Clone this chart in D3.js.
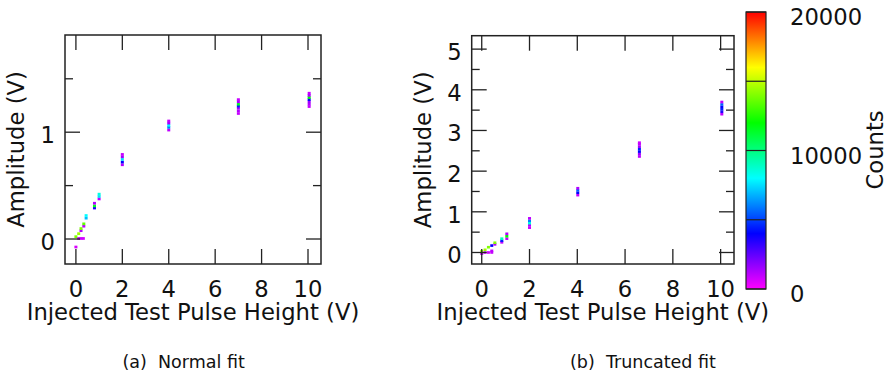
<!DOCTYPE html>
<html>
<head>
<meta charset="utf-8">
<script src="https://cdn.jsdelivr.net/npm/d3@7"></script>
<style>
  body { margin: 0; background: #fff; }
  text { font-family: "DejaVu Sans", sans-serif; fill: #111; }
</style>
</head>
<body>
<div id="drawing"></div>
<script>
// tick labels
var xTicks = [0, 2, 4, 6, 8, 10];
var normalYTicks = [0, 1];
var normalYMinor = [0.5, 1.5];
var truncYTicks = [0, 1, 2, 3, 4, 5];
var truncYMinor = [0.5, 1.5, 2.5, 3.5, 4.5];
var countTicks = [0, 10000, 20000];
var countMinor = [5000, 15000];

// histogram cells: [injected V, amplitude V, counts]
var normalCells = [
  [0, -0.075, 600], [0, 0.022, 14000],
  [0.12, 0.005, 900], [0.22, 0.005, 800], [0.32, 0.005, 700],
  [0.12, 0.05, 14500],
  [0.22, 0.078, 1200], [0.22, 0.098, 14000],
  [0.34, 0.12, 1000], [0.34, 0.142, 13500],
  [0.44, 0.195, 7000], [0.44, 0.22, 8000],
  [0.8, 0.29, 3500], [0.8, 0.31, 11500], [0.8, 0.335, 1200],
  [1.0, 0.375, 1000], [1.0, 0.398, 7500], [1.0, 0.42, 8500],
  [2, 0.695, 1200], [2, 0.72, 4000], [2, 0.745, 7500], [2, 0.77, 1500], [2, 0.792, 900],
  [4, 1.02, 1000], [4, 1.045, 6000], [4, 1.065, 8000], [4, 1.085, 1500], [4, 1.105, 900],
  [7, 1.175, 900], [7, 1.2, 1200], [7, 1.225, 1500], [7, 1.245, 4500], [7, 1.262, 11500], [7, 1.285, 1300], [7, 1.305, 900],
  [10.05, 1.24, 900], [10.05, 1.262, 1200], [10.05, 1.285, 1500], [10.05, 1.305, 4000], [10.05, 1.325, 12000], [10.05, 1.345, 1300], [10.05, 1.365, 900]
];
var truncCells = [
  [0, -0.03, 800], [0, 0.03, 14500],
  [0.14, 0.0, 900], [0.14, 0.066, 14500],
  [0.28, 0.0, 800], [0.28, 0.13, 14000],
  [0.42, 0.0, 900], [0.42, 0.04, 1000], [0.42, 0.17, 4000],
  [0.55, 0.2, 1200], [0.55, 0.24, 14000],
  [0.84, 0.25, 1000], [0.84, 0.29, 4500], [0.84, 0.34, 9000],
  [1.05, 0.34, 1000], [1.05, 0.40, 12000], [1.05, 0.46, 1200],
  [2, 0.61, 800], [2, 0.67, 1200], [2, 0.72, 8500], [2, 0.78, 6000], [2, 0.84, 1000],
  [4.02, 1.41, 1000], [4.02, 1.47, 4000], [4.02, 1.53, 5500], [4.02, 1.58, 1200],
  [6.6, 2.36, 1000], [6.6, 2.42, 1500], [6.6, 2.48, 4000], [6.6, 2.54, 4500], [6.6, 2.6, 1500], [6.6, 2.66, 1000], [6.6, 2.7, 800],
  [10.05, 3.40, 1000], [10.05, 3.46, 3500], [10.05, 3.52, 4500], [10.05, 3.58, 4000], [10.05, 3.64, 5500], [10.05, 3.70, 1000]
];

var W = 888, H = 374;
var FS = "22.7px";
var svg = d3.select("#drawing").append("svg").attr("width", W).attr("height", H);

var color = d3.scaleSequential(function (t) { return d3.hsl(300 * (1 - t), 1, 0.5) + ""; })
  .domain([0, 20000]);

function panel(opt) {
  var x = d3.scaleLinear().domain(opt.xDom).range([opt.left, opt.right]);
  var y = d3.scaleLinear().domain(opt.yDom).range([opt.bottom, opt.top]);
  var g = svg.append("g");

  var cw = 3, ch = opt.cellH;
  g.selectAll(".cell").data(opt.cells).enter().append("rect")
    .attr("class", "cell")
    .attr("x", function (d) { return x(d[0]) - cw / 2; })
    .attr("y", function (d) { return y(d[1]) - ch / 2; })
    .attr("width", cw).attr("height", ch)
    .attr("fill", function (d) { return color(d[2]); });

  var tk = "#222";
  // x ticks, bottom and top, inward
  xTicks.forEach(function (v) {
    g.append("line").attr("x1", x(v)).attr("x2", x(v)).attr("y1", opt.bottom).attr("y2", opt.bottom - 15).attr("stroke", tk).attr("stroke-width", 1.3);
    g.append("line").attr("x1", x(v)).attr("x2", x(v)).attr("y1", opt.top).attr("y2", opt.top + 15).attr("stroke", tk).attr("stroke-width", 1.3);
    g.append("text").attr("x", x(v)).attr("y", 297).attr("text-anchor", "middle")
      .style("font-size", FS).text(v);
  });
  opt.yTicks.forEach(function (v) {
    g.append("line").attr("x1", opt.left).attr("x2", opt.left + 15).attr("y1", y(v)).attr("y2", y(v)).attr("stroke", tk).attr("stroke-width", 1.3);
    g.append("line").attr("x1", opt.right).attr("x2", opt.right - 15).attr("y1", y(v)).attr("y2", y(v)).attr("stroke", tk).attr("stroke-width", 1.3);
    g.append("text").attr("x", opt.left - 10).attr("y", y(v) + 11).attr("text-anchor", "end")
      .style("font-size", FS).text(v);
  });
  opt.yMinor.forEach(function (v) {
    g.append("line").attr("x1", opt.left).attr("x2", opt.left + 8).attr("y1", y(v)).attr("y2", y(v)).attr("stroke", tk).attr("stroke-width", 1.3);
    g.append("line").attr("x1", opt.right).attr("x2", opt.right - 8).attr("y1", y(v)).attr("y2", y(v)).attr("stroke", tk).attr("stroke-width", 1.3);
  });

  g.append("rect").attr("x", opt.left).attr("y", opt.top)
    .attr("width", opt.right - opt.left).attr("height", opt.bottom - opt.top)
    .attr("fill", "none").attr("stroke", tk).attr("stroke-width", 1.5);

  g.append("text").attr("x", (opt.left + opt.right) / 2).attr("y", 320).attr("text-anchor", "middle")
    .style("font-size", FS).text("Injected Test Pulse Height (V)");
  g.append("text").attr("transform", "translate(" + opt.yTitleX + "," + (opt.top + opt.bottom) / 2 + ") rotate(-90)")
    .attr("text-anchor", "middle").style("font-size", FS).text("Amplitude (V)");
  g.append("text").attr("x", opt.capX).attr("y", 368).style("font-size", "17.5px")
    .attr("xml:space", "preserve").style("white-space", "pre").text(opt.caption);
}

panel({
  left: 65, right: 321, top: 35, bottom: 264,
  xDom: [-0.47, 10.56], yDom: [-0.234, 1.91],
  yTicks: normalYTicks, yMinor: normalYMinor,
  cells: normalCells, cellH: 2.7,
  yTitleX: 23.5, capX: 122.5, caption: "(a)  Normal fit"
});
panel({
  left: 471.7, right: 734, top: 35.7, bottom: 264,
  xDom: [-0.42, 10.56], yDom: [-0.283, 5.33],
  yTicks: truncYTicks, yMinor: truncYMinor,
  cells: truncCells, cellH: 2.6,
  yTitleX: 431, capX: 570, caption: "(b)  Truncated fit"
});

// colour box
var cb = { left: 746, right: 766, top: 12, bottom: 289 };
var cy = d3.scaleLinear().domain([0, 20000]).range([cb.bottom, cb.top]);
var grad = svg.append("defs").append("linearGradient").attr("id", "cbg")
  .attr("x1", 0).attr("y1", 1).attr("x2", 0).attr("y2", 0);
d3.range(0, 1.0001, 0.05).forEach(function (t) {
  grad.append("stop").attr("offset", t).attr("stop-color", color(t * 20000));
});
svg.append("rect").attr("x", cb.left).attr("y", cb.top)
  .attr("width", cb.right - cb.left).attr("height", cb.bottom - cb.top)
  .attr("fill", "url(#cbg)").attr("stroke", "#222").attr("stroke-width", 1.2);
countTicks.concat(countMinor).forEach(function (v) {
  svg.append("line").attr("x1", cb.left).attr("x2", cb.right).attr("y1", cy(v)).attr("y2", cy(v))
    .attr("stroke", "#222").attr("stroke-width", 1.2);
});
countTicks.forEach(function (v) {
  svg.append("text").attr("x", 790).attr("y", cy(v) + 13).style("font-size", FS).text(v);
});
svg.append("text").attr("transform", "translate(883,150) rotate(-90)")
  .attr("text-anchor", "middle").style("font-size", FS).text("Counts");
</script>
</body>
</html>
